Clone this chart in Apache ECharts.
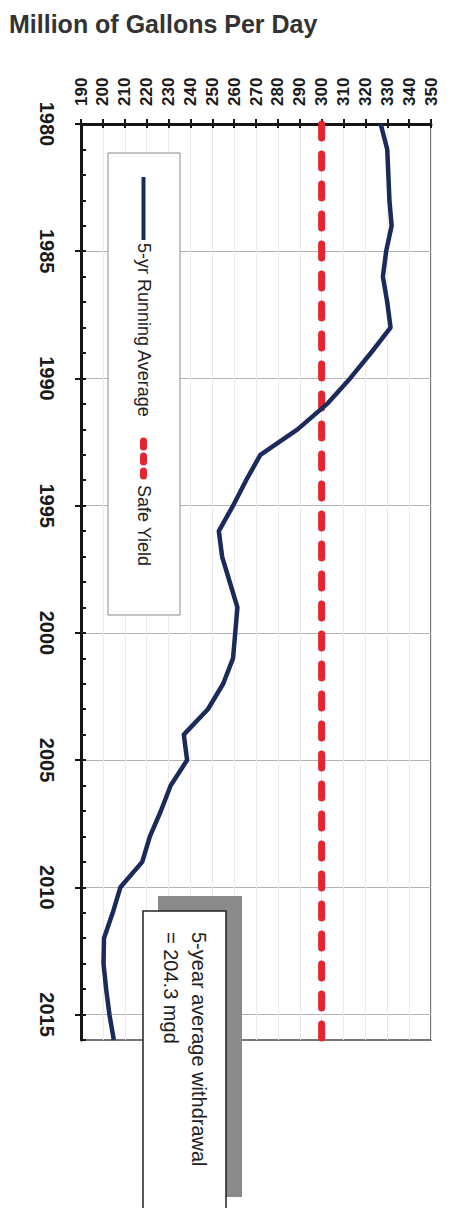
<!DOCTYPE html>
<html><head><meta charset="utf-8">
<script src="https://cdn.jsdelivr.net/npm/echarts@6/dist/echarts.min.js"></script>
<style>html,body{margin:0;padding:0;background:#fff}#c{width:452px;height:1208px}</style>
</head><body><div id="c"></div>
<script>
const titleText = 'Million of Gallons Per Day';
const years = ['1980','1981','1982','1983','1984','1985','1986','1987','1988','1989',
  '1990','1991','1992','1993','1994','1995','1996','1997','1998','1999',
  '2000','2001','2002','2003','2004','2005','2006','2007','2008','2009',
  '2010','2011','2012','2013','2014','2015','2016'];
const runningAverage = [327, 330, 330.5, 331, 332, 329.5, 328, 330, 331.5, 322.5,
  313, 302.5, 289, 272, 265.5, 259.5, 253, 254.5, 258, 261.5,
  260.5, 259.5, 255, 248, 237, 238.5, 231, 226.5, 221.5, 218,
  208, 204.5, 200.5, 200.3, 201.5, 203, 205];
const safeYield = 300;
const valueMin = 190, valueMax = 350, valueStep = 10;
const seriesNames = ['5-yr Running Average', 'Safe Yield'];
const noteLines = ['5-year average withdrawal', '= 204.3 mgd'];

const NAVY = '#1b2a5a', RED = '#e4252f', INK = '#161616';
const FONT = 'Liberation Sans, Arial, sans-serif';
const chart = echarts.init(document.getElementById('c'), null, {renderer: 'svg'});

const tickStyle = {color: INK, width: 2};
chart.setOption({
  animation: false,
  backgroundColor: '#fff',
  title: {text: titleText, left: 4, top: 6,
    textStyle: {fontSize: 25, fontWeight: 'bold', color: '#333', fontFamily: FONT}},
  grid: {left: 81, top: 124, right: 21, bottom: 168, show: true,
    borderColor: '#4a4a4a', borderWidth: 1.5, outerBoundsMode: 'none'},
  xAxis: [
    {type: 'value', position: 'top', min: valueMin, max: valueMax, interval: valueStep,
      axisLine: {show: true, onZero: false, lineStyle: {color: INK, width: 3}},
      axisTick: {show: true, length: 5, lineStyle: tickStyle},
      axisLabel: {rotate: -90, margin: 18, fontSize: 17, fontWeight: 'bold', color: '#1a1a1a', fontFamily: FONT},
      splitLine: {show: true, lineStyle: {color: '#ebebeb', width: 1}}},
    {type: 'value', position: 'top', min: valueMin, max: valueMax, interval: valueStep,
      axisLine: {show: false}, axisTick: {show: true, inside: true, length: 4, lineStyle: tickStyle},
      axisLabel: {show: false}, splitLine: {show: false}}
  ],
  yAxis: [
    {type: 'category', data: years, inverse: true, boundaryGap: false, position: 'left',
      axisLine: {show: true, onZero: false, lineStyle: {color: INK, width: 3}},
      axisTick: {show: true, interval: 4, length: 6, lineStyle: tickStyle},
      axisLabel: {interval: 4, rotate: -90, margin: 24, fontSize: 20, fontWeight: 'bold', color: '#1a1a1a', fontFamily: FONT},
      splitLine: {show: true, interval: 4, lineStyle: {color: '#b3b3b3', width: 1}}},
    {type: 'category', data: years, inverse: true, boundaryGap: false, position: 'left',
      axisLine: {show: false}, axisTick: {show: true, interval: 0, inside: true, length: 5, lineStyle: tickStyle},
      axisLabel: {show: false}, splitLine: {show: false}}
  ],
  series: [
    {name: seriesNames[0], type: 'line', xAxisIndex: 0, yAxisIndex: 0, symbol: 'none', z: 4,
      lineStyle: {color: NAVY, width: 4.5, join: 'round'},
      data: runningAverage.map((v, i) => [v, i])},
    {name: seriesNames[1], type: 'line', xAxisIndex: 0, yAxisIndex: 0, symbol: 'none', z: 3,
      lineStyle: {color: RED, width: 7, type: [14, 16], cap: 'round'},
      data: [[safeYield, 0], [safeYield, years.length - 1]]}
  ],
  graphic: [
    {type: 'rect', z: 20, shape: {x: 108, y: 153, width: 72, height: 462},
      style: {fill: '#fff', stroke: '#8a8a8a', lineWidth: 1}},
    {type: 'line', z: 21, shape: {x1: 143.5, y1: 177, x2: 143.5, y2: 240},
      style: {stroke: NAVY, lineWidth: 4}},
    {type: 'text', z: 21, x: 143.5, y: 243, rotation: -Math.PI / 2,
      style: {text: seriesNames[0], x: 0, y: 0, align: 'left', verticalAlign: 'middle',
        font: '18px ' + FONT, fill: '#222'}},
    {type: 'line', z: 21, shape: {x1: 143.5, y1: 441, x2: 143.5, y2: 476},
      style: {stroke: RED, lineWidth: 7, lineDash: [6, 9], lineCap: 'round'}},
    {type: 'text', z: 21, x: 143.5, y: 485, rotation: -Math.PI / 2,
      style: {text: seriesNames[1], x: 0, y: 0, align: 'left', verticalAlign: 'middle',
        font: '18px ' + FONT, fill: '#222'}},
    {type: 'rect', z: 20, shape: {x: 158, y: 896, width: 84, height: 301},
      style: {fill: '#8a8a8a'}},
    {type: 'rect', z: 21, shape: {x: 143, y: 911, width: 83, height: 310},
      style: {fill: '#fff', stroke: '#222', lineWidth: 1.5}},
    {type: 'text', z: 22, x: 213, y: 932, rotation: -Math.PI / 2,
      style: {text: noteLines.join('\n'), x: 0, y: 0, align: 'left', verticalAlign: 'top',
        lineHeight: 28, font: '20px ' + FONT, fill: '#222'}}
  ]
});
</script></body></html>
